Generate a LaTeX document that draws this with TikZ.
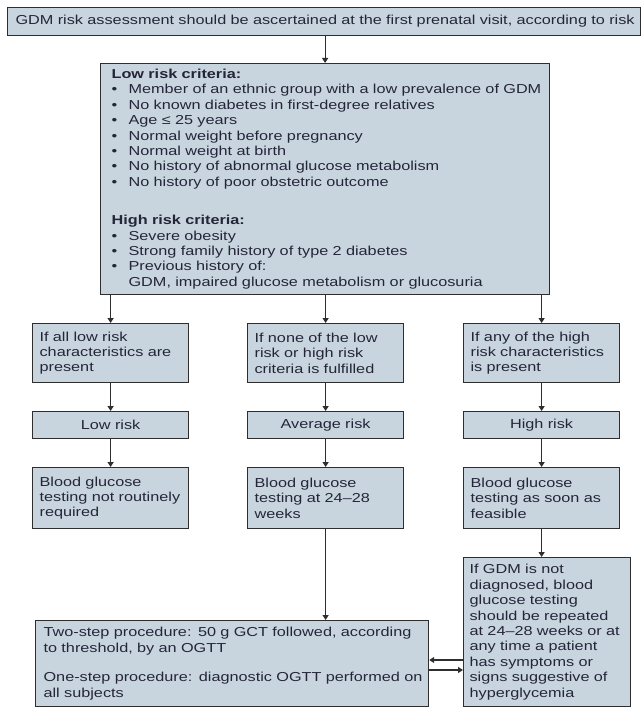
\documentclass[tikz,border=0pt]{standalone}
\usepackage{fontspec}
\setmainfont{Liberation Sans}[FakeStretch=1.25]
\usetikzlibrary{arrows.meta}
\definecolor{boxfill}{HTML}{C8D5DE}
\definecolor{boxline}{HTML}{2E2E2E}
\definecolor{txt}{HTML}{25253A}
\newcommand{\itembul}{\makebox[17pt][l]{\textbullet}}
\begin{document}
\begin{tikzpicture}[x=1pt,y=-1pt,
  box/.style={draw=boxline, fill=boxfill, line width=1.2pt, inner ysep=0pt,
    anchor=north west, align=left, text=txt,
    font=\fontsize{13}{15.4}\selectfont},
  colbox/.style={box, inner xsep=7pt, text width=142pt, minimum width=156pt},
  arr/.style={draw=boxline, line width=1.2pt, -{Triangle[length=5pt,width=6pt]}}]
\useasboundingbox (0,0) rectangle (641,708);

\node[box, inner xsep=8pt, text width=617pt, minimum width=633pt, minimum height=28pt] (top) at (7,7)
  {\mbox{GDM risk assessment should be ascertained at the first prenatal visit, according to risk}};

\node[box, inner xsep=11pt, text width=427pt, minimum width=449pt, minimum height=231pt] (crit) at (100,63)
  {\mbox{\textbf{Low risk criteria:}}\\
   \mbox{\itembul Member of an ethnic group with a low prevalence of GDM}\\
   \mbox{\itembul No known diabetes in first-degree relatives}\\
   \mbox{\itembul Age ≤ 25 years}\\
   \mbox{\itembul Normal weight before pregnancy}\\
   \mbox{\itembul Normal weight at birth}\\
   \mbox{\itembul No history of abnormal glucose metabolism}\\
   \mbox{\itembul No history of poor obstetric outcome}\\[23pt]
   \mbox{\textbf{High risk criteria:}}\\
   \mbox{\itembul Severe obesity}\\
   \mbox{\itembul Strong family history of type 2 diabetes}\\
   \mbox{\itembul Previous history of:}\\
   \mbox{\hspace*{17pt}GDM, impaired glucose metabolism or glucosuria}};

% row 1
\node[colbox, minimum height=59pt] (a1) at (32,323)
  {\mbox{If all low risk}\\\mbox{characteristics are}\\\mbox{present}};
\node[colbox, minimum height=59pt] (b1) at (247,323)
  {\mbox{If none of the low}\\\mbox{risk or high risk}\\\mbox{criteria is fulfilled}};
\node[colbox, minimum height=59pt] (c1) at (463,323)
  {\mbox{If any of the high}\\\mbox{risk characteristics}\\\mbox{is present}};

% row 2
\node[colbox, align=center, minimum height=27pt] (a2) at (32,411) {Low risk};
\node[colbox, align=center, minimum height=27pt] (b2) at (247,411) {Average risk};
\node[colbox, align=center, minimum height=27pt] (c2) at (463,411) {High risk};

% row 3
\node[colbox, minimum height=61pt] (a3) at (32,467)
  {\mbox{Blood glucose}\\\mbox{testing not routinely}\\\mbox{required}};
\node[colbox, minimum height=61pt] (b3) at (247,467)
  {\mbox{Blood glucose}\\\mbox{testing at 24–28}\\\mbox{weeks}};
\node[colbox, minimum height=61pt] (c3) at (463,467)
  {\mbox{Blood glucose}\\\mbox{testing as soon as}\\\mbox{feasible}};

% bottom
\node[box, inner xsep=8pt, text width=377pt, minimum width=393pt, minimum height=86pt] (bot) at (35,620)
  {\mbox{Two-step procedure: 50 g GCT followed, according}\\
   \mbox{to threshold, by an OGTT}\\[14pt]
   \mbox{One-step procedure: diagnostic OGTT performed on}\\
   \mbox{all subjects}};

\node[box, inner xsep=6pt, text width=155pt, minimum width=167pt, minimum height=149pt] (fin) at (463,557)
  {\mbox{If GDM is not}\\
   \mbox{diagnosed, blood}\\
   \mbox{glucose testing}\\
   \mbox{should be repeated}\\
   \mbox{at 24–28 weeks or at}\\
   \mbox{any time a patient}\\
   \mbox{has symptoms or}\\
   \mbox{signs suggestive of}\\
   \mbox{hyperglycemia}};

% connectors
\draw[arr] (crit.north |- top.south) -- (crit.north);
\draw[arr] (crit.south -| a1.north) -- (a1.north);
\draw[arr] (crit.south -| b1.north) -- (b1.north);
\draw[arr] (crit.south -| c1.north) -- (c1.north);
\draw[arr] (a1.south) -- (a2.north);
\draw[arr] (b1.south) -- (b2.north);
\draw[arr] (c1.south) -- (c2.north);
\draw[arr] (a2.south) -- (a3.north);
\draw[arr] (b2.south) -- (b3.north);
\draw[arr] (c2.south) -- (c3.north);
\draw[arr] (b3.south) -- (b3.south |- bot.north);
\draw[arr] (c3.south) -- (c3.south |- fin.north);
\coordinate (uplink) at (0,660);
\coordinate (lowlink) at (0,670);
\draw[arr] (fin.west |- uplink) -- (bot.east |- uplink);
\draw[arr] (bot.east |- lowlink) -- (fin.west |- lowlink);
\end{tikzpicture}
\end{document}
